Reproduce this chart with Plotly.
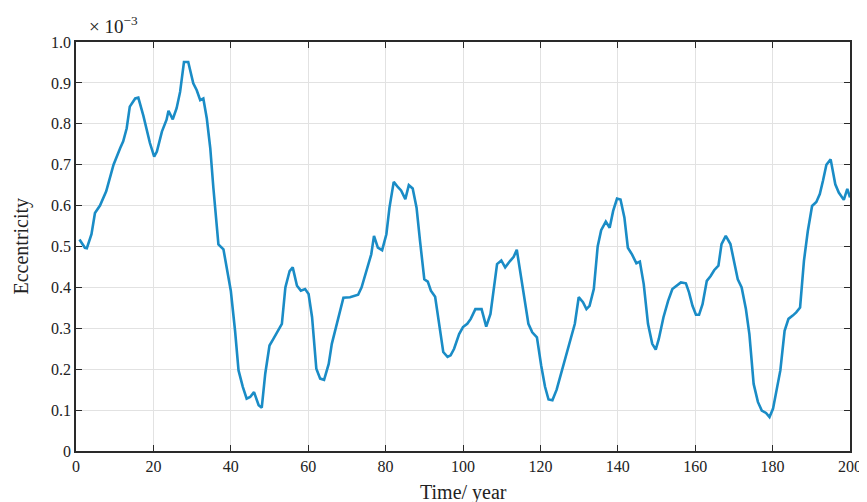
import plotly.graph_objects as go

years = [0.9, 2.3, 2.8, 4.0, 4.9, 6.2, 7.8, 8.8, 9.7, 11.4, 12.2, 13.1, 13.9, 15.3, 16.1, 17.4, 18.3, 19.1,
         20.2, 20.9, 22.2, 23.4, 23.9, 25.0, 26.0, 26.9, 27.9, 29.0, 30.3, 31.2, 32.1, 32.9, 33.8, 34.7,
         35.5, 36.8, 38.1, 39.0, 40.0, 41.1, 42.0, 43.1, 44.1, 45.0, 46.0, 47.2, 48.0, 48.9, 50.0, 51.0,
         52.3, 53.2, 54.1, 55.2, 56.0, 57.1, 58.1, 59.2, 60.1, 61.0, 62.1, 63.1, 64.1, 65.3, 66.1, 67.4,
         69.1, 70.8, 72.9, 73.8, 75.0, 76.3, 77.0, 78.0, 79.1, 80.2, 81.0, 82.1, 83.2, 84.0, 85.1, 86.0,
         87.0, 88.0, 88.9, 90.0, 90.9, 91.7, 92.8, 93.8, 94.9, 96.0, 96.8, 97.7, 99.0, 100.0, 101.1, 102.0,
         103.2, 104.8, 106.0, 107.1, 108.8, 109.9, 110.9, 112.2, 113.1, 113.9, 115.2, 116.9, 117.9, 119.1,
         120.2, 121.2, 122.1, 123.1, 124.2, 125.5, 126.8, 128.0, 128.9, 129.9, 131.0, 131.9, 132.7, 133.8,
         134.8, 135.7, 136.9, 137.9, 138.8, 139.8, 140.7, 141.7, 142.6, 143.7, 144.8, 145.7, 146.7, 147.8,
         148.9, 149.8, 150.6, 151.8, 153.0, 154.1, 155.2, 156.3, 157.6, 158.4, 159.3, 160.2, 161.0, 161.9,
         163.0, 164.0, 164.9, 166.0, 166.8, 167.9, 169.1, 170.1, 171.0, 172.0, 173.1, 174.0, 175.1, 176.2,
         177.2, 178.3, 179.2, 180.1, 181.1, 182.0, 183.1, 184.1, 185.2, 186.1, 187.1, 188.1, 189.1, 190.2,
         191.3, 192.2, 193.0, 193.9, 195.0, 196.2, 197.1, 198.4, 199.3, 200.0]

eccentricity = [0.517, 0.497, 0.496, 0.530, 0.582, 0.600, 0.635, 0.667, 0.700, 0.740, 0.757, 0.789, 0.842,
                0.862, 0.864, 0.820, 0.780, 0.753, 0.720, 0.732, 0.781, 0.810, 0.832, 0.811, 0.838, 0.878,
                0.951, 0.951, 0.899, 0.882, 0.858, 0.862, 0.813, 0.740, 0.643, 0.505, 0.493, 0.448, 0.392,
                0.294, 0.197, 0.157, 0.128, 0.132, 0.144, 0.112, 0.106, 0.189, 0.258, 0.274, 0.298, 0.311,
                0.400, 0.440, 0.449, 0.404, 0.392, 0.396, 0.384, 0.327, 0.201, 0.177, 0.174, 0.213, 0.262,
                0.311, 0.375, 0.376, 0.382, 0.400, 0.440, 0.481, 0.526, 0.497, 0.491, 0.530, 0.595, 0.658,
                0.645, 0.637, 0.616, 0.650, 0.642, 0.595, 0.513, 0.420, 0.414, 0.392, 0.377, 0.311, 0.242,
                0.230, 0.234, 0.250, 0.286, 0.303, 0.311, 0.323, 0.347, 0.347, 0.304, 0.335, 0.457, 0.466,
                0.449, 0.465, 0.475, 0.492, 0.416, 0.311, 0.290, 0.278, 0.209, 0.157, 0.126, 0.124, 0.150,
                0.193, 0.242, 0.278, 0.311, 0.376, 0.364, 0.347, 0.355, 0.396, 0.500, 0.540, 0.561, 0.546,
                0.587, 0.617, 0.615, 0.571, 0.497, 0.480, 0.459, 0.463, 0.408, 0.311, 0.262, 0.248, 0.274,
                0.327, 0.367, 0.396, 0.404, 0.412, 0.410, 0.388, 0.355, 0.333, 0.333, 0.359, 0.416, 0.428,
                0.442, 0.453, 0.506, 0.526, 0.506, 0.465, 0.420, 0.400, 0.347, 0.286, 0.164, 0.120, 0.099,
                0.093, 0.083, 0.103, 0.148, 0.197, 0.294, 0.323, 0.331, 0.339, 0.351, 0.465, 0.538, 0.599,
                0.609, 0.628, 0.660, 0.700, 0.713, 0.652, 0.632, 0.614, 0.641, 0.620]

x_ticks = [0, 20, 40, 60, 80, 100, 120, 140, 160, 180, 200]
y_ticks = [0, 0.1, 0.2, 0.3, 0.4, 0.5, 0.6, 0.7, 0.8, 0.9, 1.0]
y_tick_labels = ["0", "0.1", "0.2", "0.3", "0.4", "0.5", "0.6", "0.7", "0.8", "0.9", "1.0"]

serif = "Liberation Serif, Times New Roman, serif"
ink = "#222222"

fig = go.Figure()
fig.add_trace(go.Scatter(x=years, y=eccentricity, mode="lines",
                         line=dict(color="#1a8cc6", width=2.6), showlegend=False))

axis_common = dict(showline=True, linecolor="#2a2a2a", linewidth=1.6, mirror="ticks",
                   ticks="inside", ticklen=6, tickcolor="#2a2a2a", tickwidth=1.2,
                   showgrid=True, gridcolor="#e2e2e2", gridwidth=1, zeroline=False,
                   automargin=False,
                   tickfont=dict(family=serif, size=16, color=ink))

fig.update_xaxes(range=[0, 200], tickvals=x_ticks, **axis_common)
fig.update_yaxes(range=[0, 1.0], tickvals=y_ticks, ticktext=y_tick_labels, **axis_common)

# axis titles
fig.add_annotation(text="Time/ year", xref="paper", yref="paper", x=0.5, y=0,
                   xanchor="center", yanchor="middle", yshift=-41, showarrow=False,
                   font=dict(family=serif, size=20, color=ink))
fig.add_annotation(text="Eccentricity", xref="paper", yref="paper", x=0, y=0.5,
                   xanchor="center", yanchor="middle", xshift=-55, textangle=-90, showarrow=False,
                   font=dict(family=serif, size=20, color=ink))

# exponent marker
fig.add_annotation(text="× 10<sup>−3</sup>", xref="paper", yref="paper", x=0.014, y=1.0,
                   xanchor="left", yanchor="bottom", showarrow=False, yshift=3,
                   font=dict(family=serif, size=19, color=ink))

# page body has an 8px default margin, so the figure is sized to fit the 867x502 window
fig.update_layout(width=859, height=494, plot_bgcolor="white", paper_bgcolor="white",
                  margin=dict(l=68, r=17, t=34, b=51))

fig.write_html("out.html")
